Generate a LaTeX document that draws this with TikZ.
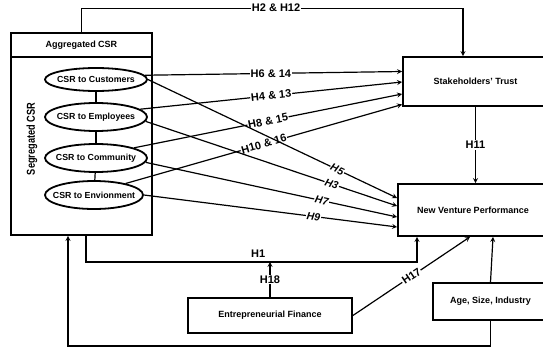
\documentclass[tikz,border=0pt]{standalone}
\usepackage{fontspec}
\setmainfont{Liberation Sans}
\usetikzlibrary{shapes,positioning}

\begin{document}
\begin{tikzpicture}[x=1pt, y=-1pt,
    boxNode/.style={rectangle, draw, line width=1.8pt, font=\bfseries\fontsize{9}{11}\selectfont},
    ellipseNode/.style={ellipse, draw, line width=1.8pt, minimum width=102pt, minimum height=28pt, inner xsep=-8pt, inner ysep=0pt, font=\bfseries\fontsize{8.8}{10}\selectfont},
    arrow/.style={->, >=stealth, line width=1.2pt},
    link/.style={line width=1.2pt},
    hypLabel/.style={fill=white, inner sep=0.8pt, font=\bfseries\fontsize{11}{13}\selectfont},
    pathLabel/.style={hypLabel, sloped, font=\bfseries\itshape\fontsize{10.5}{12}\selectfont}
  ]
  \useasboundingbox (0,0) rectangle (543,348);

  % Aggregated CSR
  \node[boxNode, minimum width=141pt, minimum height=202pt] (agg) at (81.5,134) {};
  \node[boxNode, minimum width=141pt, minimum height=24pt, anchor=north] (aggTitle) at (agg.north) {Aggregated CSR};
  \node[rotate=90, font=\bfseries\fontsize{11.5}{13}\selectfont] (seg) at (32,139) {\scalebox{0.8}[1]{Segregated CSR}};

  % Segregated CSR
  \node[ellipseNode, minimum height=23pt] (cust) at (96,79.5) {CSR to Customers};
  \node[ellipseNode] (empl) at (96,117) {CSR to Employees};
  \node[ellipseNode] (comm) at (96,158) {CSR to Community};
  \node[ellipseNode, minimum width=98pt] (env) at (94,195) {CSR to Envionment};
  \draw[link] (cust) -- (empl);
  \draw[link] (empl) -- (comm);
  \draw[link] (comm) -- (env);

  % Outcomes and controls
  \node[boxNode, minimum width=145pt, minimum height=49pt] (trust) at (475.5,81.5) {Stakeholders' Trust};
  \node[boxNode, minimum width=150pt, minimum height=52pt] (nvp) at (473,210) {New Venture Performance};
  \node[boxNode, minimum width=164pt, minimum height=35pt] (fin) at (270,315.5) {Entrepreneurial Finance};
  \node[boxNode, minimum width=115pt, minimum height=37pt] (age) at (490.5,301.5) {Age, Size, Industry};

  % Arrows to trust
  \draw[arrow] (agg.north) -- ++(0,-24) -| node[hypLabel, pos=0.255] {H2 \& H12} ([xshift=-12.5pt]trust.north);
  \draw[arrow] (cust.5) -- node[hypLabel, pos=0.49] {H6 \& 14} ([yshift=10pt]trust.west);
  \draw[arrow] (empl.10) -- node[hypLabel, sloped] {H4 \& 13} ([yshift=-0.5pt]trust.west);
  \draw[arrow] (comm.15) -- node[hypLabel, sloped] {H8 \& 15} ([yshift=-12.5pt]trust.west);
  \draw[arrow] (env.20) -- node[hypLabel, sloped] {H10 \& 16} ([yshift=-23pt]trust.west);

  % Arrows to performance
  \draw[arrow] (cust.east) -- node[pathLabel, pos=0.76] {H5} ([yshift=12pt]nvp.west);
  \draw[arrow] (empl.-5) -- node[pathLabel, pos=0.74] {H3} ([yshift=4pt]nvp.west);
  \draw[arrow] (comm.-5) -- node[pathLabel, pos=0.70] {H7} ([yshift=-7pt]nvp.west);
  \draw[arrow] (env.0) -- node[pathLabel, pos=0.67] {H9} ([yshift=-17pt]nvp.west);
  \draw[arrow] (trust) -- node[hypLabel] {H11} (trust |- nvp.north);

  % H1, moderation and controls
  \path ([xshift=4.5pt]agg.south) ++(0,26) coordinate (h1Corner);
  \draw[arrow] ([xshift=4.5pt]agg.south) -- (h1Corner) -| node[hypLabel, fill=none, above=3pt, pos=0.26] {H1} ([xshift=-56pt]nvp.south);
  \draw[arrow] (fin) -- node[hypLabel] {H18} (fin |- h1Corner);
  \draw[arrow] (fin.east) -- node[hypLabel, sloped] {H17} ([xshift=-3pt]nvp.south);
  \draw[arrow] (age.north) -- ([xshift=20pt]nvp.south);
  \draw[arrow] (age.south) -- ++(0,25) -| ([xshift=-13.5pt]agg.south);

\end{tikzpicture}
\end{document}
